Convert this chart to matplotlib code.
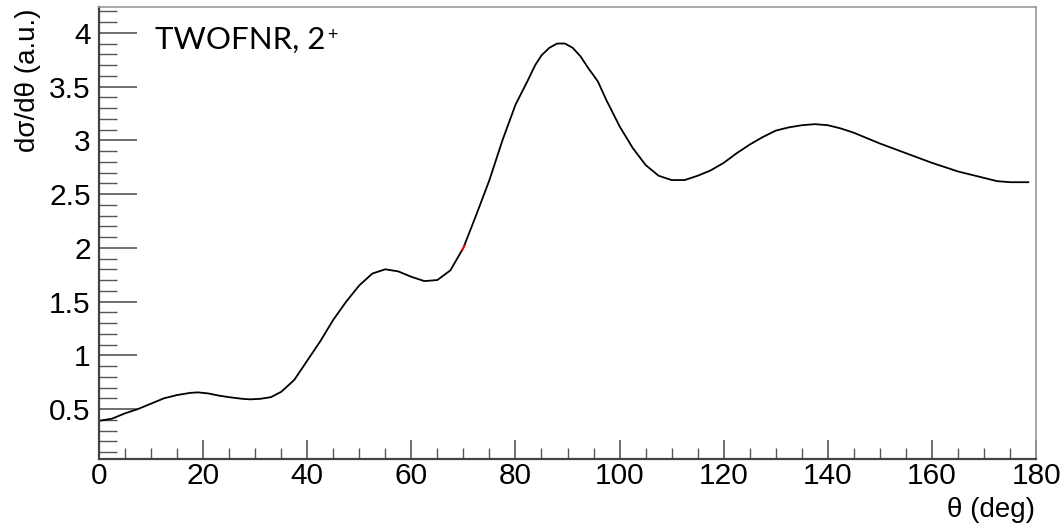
import matplotlib
matplotlib.use('Agg')
import matplotlib.pyplot as plt
from matplotlib.ticker import MultipleLocator

# angle (deg) and cross section (a.u.)
theta = [0, 2.5, 5, 7.5, 10, 12.5, 15, 17.5, 19, 21, 23, 25, 27.5, 29, 31, 33, 35, 37.5,
         40, 42.5, 45, 47.5, 50, 52.5, 55, 57.5, 60, 62.5, 65, 67.5, 70, 72.5,
         75, 77.5, 80, 82.3, 83.8, 85, 86.5, 88, 89.5, 91, 92.5, 94, 95.8, 97.5,
         100, 102.5, 105, 107.5, 110, 112.5, 115, 117.5, 120, 122.5, 125, 127.5,
         130, 132.5, 135, 137.5, 140, 142.5, 145, 150, 155, 160, 165, 170, 172.5,
         175, 178.5]
xsec = [0.39, 0.41, 0.46, 0.50, 0.55, 0.60, 0.63, 0.65, 0.655, 0.645, 0.625, 0.61, 0.595,
        0.59, 0.595, 0.61, 0.66, 0.77, 0.95, 1.13, 1.33, 1.50, 1.65, 1.76, 1.80, 1.78,
        1.73, 1.69, 1.70, 1.79, 2.00, 2.31, 2.63, 3.00, 3.33, 3.55, 3.70, 3.79, 3.86,
        3.90, 3.90, 3.86, 3.78, 3.67, 3.55, 3.37, 3.13, 2.93, 2.77, 2.67, 2.63, 2.63,
        2.67, 2.72, 2.79, 2.88, 2.96, 3.03, 3.09, 3.12, 3.14, 3.15, 3.14, 3.11, 3.07,
        2.97, 2.88, 2.79, 2.71, 2.65, 2.62, 2.61, 2.61]

fig = plt.figure(figsize=(10.61, 5.25), dpi=100)
ax = fig.add_axes([0.0933, 0.1257, 0.8832, 0.861])

ax.plot(theta, xsec, color='black', lw=1.3)
ax.plot([69.8, 70.2], [1.98, 2.02], color='red', lw=1.3)

ax.set_xlim(0, 180)
ax.set_ylim(0.035, 4.24)
ax.xaxis.set_major_locator(MultipleLocator(20))
ax.xaxis.set_minor_locator(MultipleLocator(5))
ax.yaxis.set_major_locator(MultipleLocator(0.5))
ax.yaxis.set_minor_locator(MultipleLocator(0.1))
ax.yaxis.set_major_formatter(plt.FuncFormatter(lambda v, p: '%g' % v))

sans = ['Liberation Sans', 'DejaVu Sans']
ax.tick_params(axis='both', which='both', direction='in', labelsize=21.5, colors='#555555',
               labelcolor='black')
ax.tick_params(axis='y', which='major', length=27, width=1.2, pad=6)
ax.tick_params(axis='y', which='minor', length=13, width=1.0)
ax.tick_params(axis='x', which='major', length=14, width=1.2, pad=2)
ax.tick_params(axis='x', which='minor', length=8, width=1.0)
for lab in ax.get_xticklabels() + ax.get_yticklabels():
    lab.set_family(sans)

for s in ['left', 'bottom']:
    ax.spines[s].set_color('#444444')
    ax.spines[s].set_linewidth(1.6)
for s in ['top', 'right']:
    ax.spines[s].set_color('#999999')
    ax.spines[s].set_linewidth(1.2)

yl = ax.set_ylabel('dσ/dθ (a.u.)', loc='top', fontsize=20, family=sans)
yl.set_va('center')
ax.yaxis.set_label_coords(-0.0758, 0.996)
xl = ax.set_xlabel('θ (deg)', loc='right', fontsize=20, family=sans)
xl.set_va('center')
ax.xaxis.set_label_coords(0.999, -0.112)

lbl = ax.text(0.06, 0.927, 'TWOFNR, 2', transform=ax.transAxes, fontsize=22.5,
              family=['Lato', 'DejaVu Sans'], va='center', ha='left')
ax.annotate('+', xy=(1.0, 0.98), xycoords=lbl, xytext=(1, 0), textcoords='offset points',
            fontsize=13, family=['Lato', 'DejaVu Sans'], va='top', ha='left')

fig.savefig('out.png', dpi=100)
